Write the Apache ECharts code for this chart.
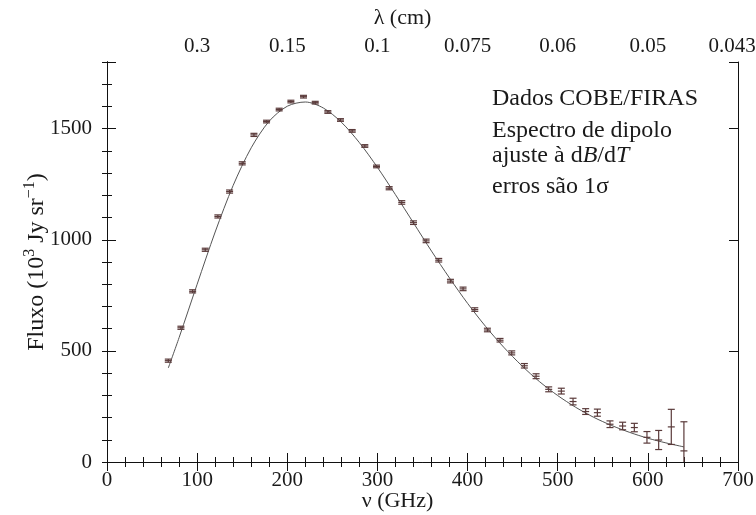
<!DOCTYPE html>
<html>
<head>
<meta charset="utf-8">
<script src="https://cdn.jsdelivr.net/npm/echarts@6/dist/echarts.min.js"></script>
<style>html,body{margin:0;padding:0;background:#fff}#c{width:756px;height:515px}</style>
</head>
<body>
<div id="c"></div>
<script>
// ---- data ----
const freqGHz = [68, 82, 95, 109, 123, 136, 150, 163, 177, 191, 204, 218, 231, 245, 259, 272, 286, 299, 313, 327, 340, 354, 368, 381, 395, 408, 422, 436, 449, 463, 476, 490, 504, 517, 531, 544, 558, 572, 585, 599, 612, 626, 640];
const flux = [456, 604, 768, 955, 1105, 1217, 1344, 1472, 1532, 1586, 1622, 1644, 1617, 1575, 1539, 1490, 1422, 1330, 1232, 1168, 1077, 995, 908, 814, 779, 686, 594, 548, 491, 433, 386, 327, 319, 272, 227, 222, 170, 162, 155, 111, 99, 158, 50];
const fluxErr = [7, 7, 7, 7, 7, 7, 7, 7, 6, 6, 6, 6, 6, 6, 6, 6, 6, 6, 7, 8, 8, 8, 8, 8, 8, 8, 8, 8, 9, 10, 11, 11, 13, 15, 13, 16, 15, 17, 19, 26, 43, 79, 131];
const fitFreq = [68, 80, 100, 120, 140, 160, 180, 200, 220, 240, 260, 280, 300, 320, 340, 360, 380, 400, 420, 440, 460, 480, 500, 520, 540, 560, 580, 600, 620, 640];
const fitFlux = [423, 560, 800, 1035, 1245, 1414, 1534, 1601, 1620, 1593, 1529, 1437, 1326, 1203, 1076, 949, 828, 714, 610, 517, 434, 361, 299, 246, 201, 164, 133, 107, 86, 68];
const lambdaLabels = ['', '0.3', '0.15', '0.1', '0.075', '0.06', '0.05', '0.043'];
const notes = ['Dados COBE/FIRAS', 'Espectro de dipolo', 'ajuste à d{i|B}/d{i|T}', 'erros são 1σ'];

const FONT = 'Liberation Serif';
const TXT = '#1a1a1a';
const PT = '#5a3a3a';

const chart = echarts.init(document.getElementById('c'), null, {renderer: 'canvas'});

const errData = freqGHz.map((f, i) => [f, flux[i], fluxErr[i]]);
const fitData = fitFreq.map((f, i) => [f, fitFlux[i]]);

function renderErr(params, api) {
  const x = api.value(0), y = api.value(1), e = api.value(2);
  const lo = Math.max(0, y - e);
  const top = api.coord([x, y + e]);
  const bot = api.coord([x, lo]);
  const mid = api.coord([x, y]);
  const w = 3.5;
  const st = {stroke: PT, lineWidth: 1.2};
  const kids = [
    {type: 'line', shape: {x1: top[0], y1: top[1], x2: bot[0], y2: bot[1]}, style: st},
    {type: 'line', shape: {x1: top[0] - w, y1: top[1], x2: top[0] + w, y2: top[1]}, style: st},
    {type: 'line', shape: {x1: mid[0] - w, y1: mid[1], x2: mid[0] + w, y2: mid[1]}, style: st}
  ];
  if (y - e >= 0) kids.push({type: 'line', shape: {x1: bot[0] - w, y1: bot[1], x2: bot[0] + w, y2: bot[1]}, style: st});
  return {type: 'group', children: kids};
}

const axisLineStyle = {show: true, lineStyle: {color: '#111', width: 1}};
const labelStyle = {fontFamily: FONT, fontSize: 21, color: TXT};

function xAx(pos, extra) {
  return Object.assign({
    type: 'value', position: pos, min: 0, max: 700, interval: 100,
    nameMoveOverlap: false,
    axisLine: axisLineStyle,
    axisTick: {show: true, inside: true, length: 9, lineStyle: {color: '#111'}},
    minorTick: {show: true, splitNumber: 5, length: 5, lineStyle: {color: '#111'}},
    splitLine: {show: false}, minorSplitLine: {show: false}
  }, extra);
}
function yAx(pos, interval, len, extra) {
  return Object.assign({
    type: 'value', position: pos, min: 0, max: 1800, interval: interval,
    nameMoveOverlap: false,
    axisLine: axisLineStyle,
    axisTick: {show: true, inside: true, length: len, lineStyle: {color: '#111'}},
    axisLabel: {show: false},
    splitLine: {show: false}
  }, extra);
}

const option = {
  animation: false,
  backgroundColor: '#fff',
  grid: {left: 107, right: 18, top: 62, bottom: 53, containLabel: false, outerBoundsMode: 'none'},
  xAxis: [
    xAx('bottom', {
      name: 'ν (GHz)', nameLocation: 'middle', nameGap: 28,
      nameTextStyle: {fontFamily: FONT, fontSize: 22, color: TXT, padding: [0, 50, 0, 0]},
      axisLabel: Object.assign({margin: 8}, labelStyle)
    }),
    xAx('top', {
      name: 'λ (cm)', nameLocation: 'middle', nameGap: 33,
      nameTextStyle: {fontFamily: FONT, fontSize: 22, color: TXT, padding: [0, 40, 0, 0]},
      axisLabel: Object.assign({
        margin: 5,
        formatter: v => {
          const s = lambdaLabels[Math.round(v / 100)] || '';
          return v === 700 ? '{r|' + s + '}' : s;
        },
        rich: {r: {fontFamily: FONT, fontSize: 21, color: TXT, padding: [0, 12, 0, 0]}}
      }, labelStyle)
    })
  ],
  yAxis: [
    yAx('left', 100, 5, {
      name: '{n|Fluxo (10}{s|3}{n| Jy sr}{s|−1}{n|)}', nameLocation: 'middle', nameGap: 55,
      nameTextStyle: {
        rich: {
          n: {fontFamily: FONT, fontSize: 24, color: TXT, lineHeight: 30},
          s: {fontFamily: FONT, fontSize: 16, color: TXT, lineHeight: 16, verticalAlign: 'top'}
        }
      },
      axisLabel: Object.assign({show: true, margin: 15, formatter: v => (v % 500 === 0 ? String(v) : '')}, labelStyle)
    }),
    yAx('right', 100, 5, {}),
    yAx('left', 500, 9, {}),
    yAx('right', 500, 9, {})
  ],
  series: [
    {
      type: 'line', name: 'ajuste', data: fitData, xAxisIndex: 0, yAxisIndex: 0,
      smooth: 0.3, showSymbol: false, symbol: 'none',
      lineStyle: {color: '#555', width: 1}, z: 2
    },
    {
      type: 'custom', name: 'FIRAS', data: errData, xAxisIndex: 0, yAxisIndex: 0,
      renderItem: renderErr, z: 3,
      encode: {x: 0, y: 1}
    }
  ],
  graphic: [
    {type: 'text', left: 492, top: 87, style: {text: notes[0], font: '24px "Liberation Serif"', fill: TXT}},
    {type: 'text', left: 492, top: 119, style: {text: notes[1], font: '24px "Liberation Serif"', fill: TXT}},
    {type: 'text', left: 492, top: 144, style: {
      text: '{n|ajuste à d}{i|B}{n|/d}{i|T}',
      rich: {
        n: {fontFamily: FONT, fontSize: 24, fill: TXT, color: TXT},
        i: {fontFamily: FONT, fontSize: 24, fontStyle: 'italic', fill: TXT, color: TXT}
      }
    }},
    {type: 'text', left: 492, top: 175, style: {text: notes[3], font: '24px "Liberation Serif"', fill: TXT}}
  ]
};
chart.setOption(option);
</script>
</body>
</html>
